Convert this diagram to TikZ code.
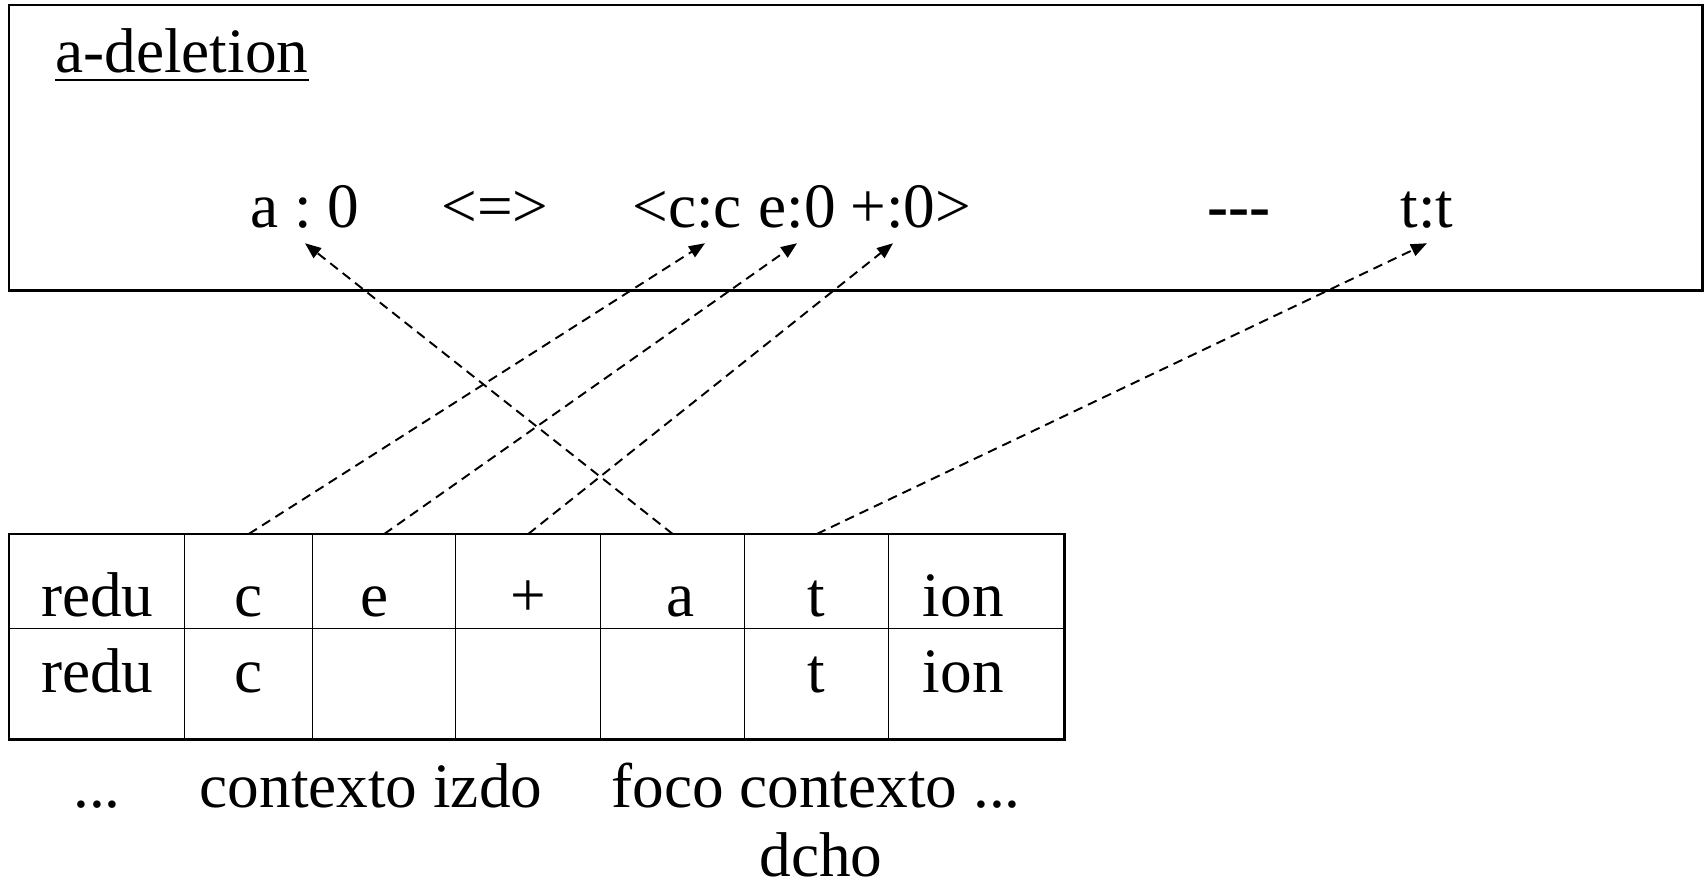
\documentclass[tikz,border=0pt]{standalone}
\usepackage{fontspec}
\setmainfont{Liberation Serif}
\usetikzlibrary{arrows.meta,calc}

\tikzset{
  lbl/.style={font=\fontsize{36}{43}\selectfont, inner sep=0pt, anchor=base},
  sym/.style={lbl, inner sep=0.3cm},
  cell/.style={lbl, draw, line width=0.8pt, anchor=north west},
  link/.style={dashed, dash pattern=on 5.5pt off 3.5pt, line width=1.1pt,
    -{Triangle[length=0.32cm,width=0.25cm]}}
}
\frenchspacing

\begin{document}
\begin{tikzpicture}[x=0.02cm, y=-0.02cm]
  \useasboundingbox (0,0) rectangle (1704,890);

  % rule box
  \draw[line width=1.7pt] (9,5) rectangle (1702,290);
  \node[lbl, anchor=base west] (title) at (55,72) {a-deletion};
  \draw[line width=1.6pt] ($(title.base west)+(0,8)$) -- ($(title.base east)+(0,8)$);

  % the rule itself
  \node[sym] (a0) at (305,227) {a : 0};
  \node[sym] (iff) at (495,227) {<=>};
  \node[sym] (lt) at (650,227) {<};
  \node[sym] (cc) at (705,227) {c:c};
  \node[sym] (e0) at (797,227) {e:0};
  \node[sym] (p0) at (893,227) {+:0};
  \node[sym] (gt) at (953,227) {>};
  \node[sym, font=\fontsize{36}{43}\selectfont\bfseries] (gap) at (1239,227) {-{}-{}-};
  \node[sym] (tt) at (1427,227) {t:t};

  % lexical / surface table
  \foreach \x/\w/\up/\down [count=\i] in {9/175/redu/redu, 184/128/c/c,
      312/143/{e\kern0.4cm}/, 455/145/+/, 600/144/{\kern0.32cm a}/,
      744/144/t/t, 888/175/{ion\kern0.52cm}/{ion\kern0.52cm}} {
    \node[cell, text height=1.64cm, text depth=0.24cm, minimum width=\w*0.02cm] (up\i) at (\x,534) {\up};
    \node[cell, text height=1.28cm, text depth=0.92cm, minimum width=\w*0.02cm] (down\i) at (\x,628) {\down};
  }
  \draw[line width=1.5pt] (up1.north west) rectangle (down7.south east);

  % correspondences
  \draw[link] (up2.north) -- (cc.south);
  \draw[link] (up3.north) -- (e0.south);
  \draw[link] (up4.north) -- (p0.south);
  \draw[link] (up5.north) -- (a0.south);
  \draw[link] (up6.north) -- (tt.south);

  % captions under the table
  \node[lbl] (dots) at (97,807) {...};
  \node[lbl] (izdo) at (371,807) {contexto izdo};
  \node[lbl] (foco) at (816,807) {foco contexto ...};
  \node[lbl] (dcho) at (821,876) {dcho};
\end{tikzpicture}
\end{document}
